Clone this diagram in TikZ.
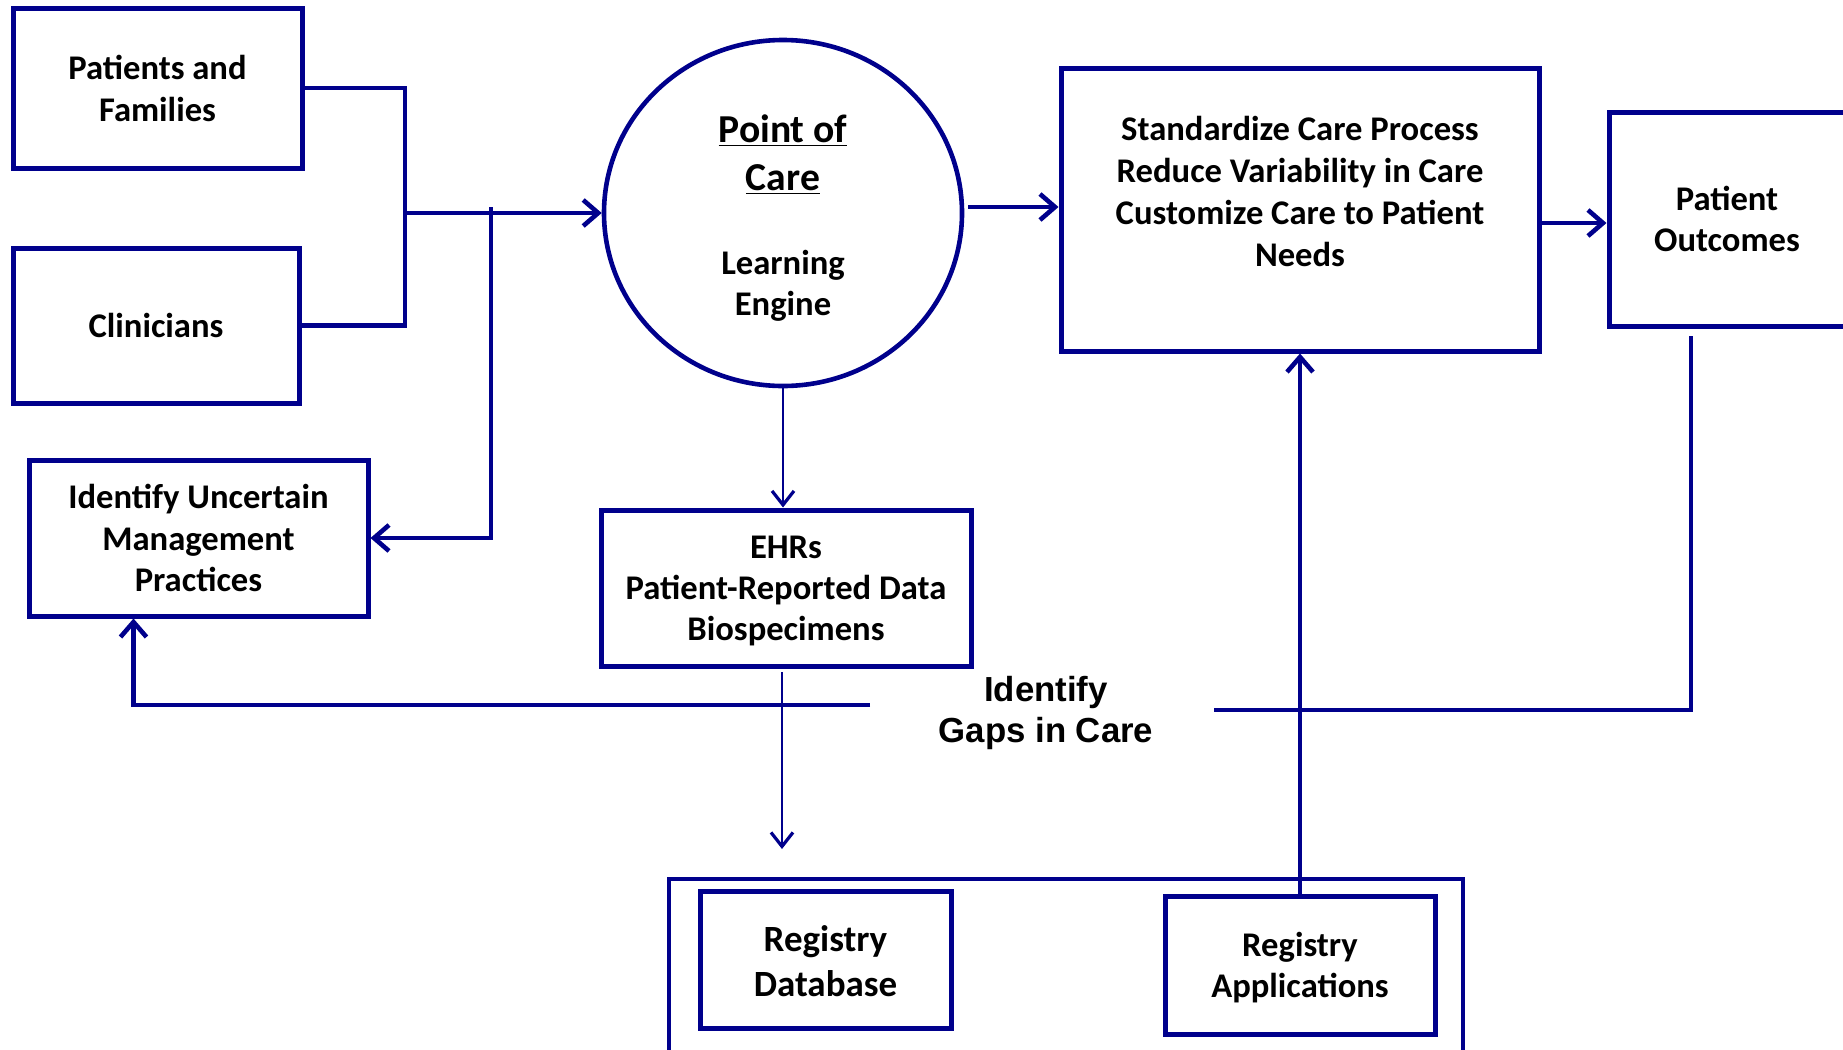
\documentclass[tikz,border=0pt]{standalone}
\usepackage{fontspec}
\setmainfont{Carlito}
\newfontfamily\arialf{Liberation Sans}
\usetikzlibrary{arrows.meta,shapes.geometric}
\definecolor{navy}{RGB}{0,0,140}
\begin{document}
\begin{tikzpicture}[x=0.5pt,y=-0.5pt,
  box/.style={draw=navy, line width=2.5pt, rectangle, inner sep=0pt, align=center,
    font=\bfseries\fontsize{17.3}{21}\selectfont},
  txt/.style={inner sep=0pt, align=center, font=\bfseries\fontsize{17.3}{21}\selectfont},
  conn/.style={draw=navy, line width=2.3pt},
  thinconn/.style={draw=navy, line width=1.3pt},
  tip/.style={-{Straight Barb[length=7.5pt,width=13pt,line width=2.3pt]}},
  thintip/.style={-{Straight Barb[length=7pt,width=11pt,line width=1.6pt]}}]
\useasboundingbox (0,0) rectangle (1843,1050);
\clip (0,0) rectangle (1843,1050);
\fill[white] (0,0) rectangle (1843,1050);

% nodes
\node[box, minimum width=144.5pt, minimum height=80pt] (pf) at (157.5,88) {Patients and\\Families};
\node[box, minimum width=143pt, minimum height=77.5pt] (cl) at (156,325.5) {Clinicians};
\node[box, minimum width=169.5pt, minimum height=78pt, font=\bfseries\fontsize{17.3}{20.75}\selectfont] (iu) at (198.5,538) {Identify Uncertain\\Management\\Practices};
\node[draw=navy, line width=2.3pt, ellipse, minimum width=179pt, minimum height=173pt, inner sep=0pt] (poc) at (783,213) {};
\node[txt, font=\bfseries\fontsize{19.8}{24}\selectfont] (poct) at (783,155) {\underline{Point of}\\\underline{Care}};
\node[txt, font=\bfseries\fontsize{17.3}{20.5}\selectfont] (le) at (783,285.5) {Learning\\Engine};
\node[box, minimum width=239pt, minimum height=141.5pt] (sc) at (1300,209.5) {};
\node[txt] (sct) at (1300,191) {Standardize Care Process\\Reduce Variability in Care\\Customize Care to Patient\\Needs};
\node[box, minimum width=118pt, minimum height=107pt, font=\bfseries\fontsize{17.3}{20.5}\selectfont] (po) at (1727,219) {Patient\\Outcomes};
\node[box, minimum width=185pt, minimum height=78pt, font=\bfseries\fontsize{17.3}{20.5}\selectfont] (ehr) at (786,588) {\rule{0pt}{14pt}EHRs\\Patient-Reported Data\\Biospecimens};
\node[draw=navy, line width=1.7pt, minimum width=397pt, minimum height=96pt, inner sep=0pt] (reg) at (1066,975) {};
\node[box, minimum width=125.5pt, minimum height=68.5pt, font=\bfseries\fontsize{18.5}{22.5}\selectfont] (rdb) at (825.5,959.5) {\rule{0pt}{15pt}Registry\\Database};
\node[box, minimum width=135pt, minimum height=69pt, font=\bfseries\fontsize{17.3}{20.5}\selectfont] (rap) at (1300,965) {\rule{0pt}{15pt}Registry\\Applications};
\node[inner sep=0pt, align=center, font=\arialf\bfseries\fontsize{17.4}{20.5}\selectfont] (gap) at (1046,712.5) {Identify\\Gaps in Care};

% connectors
\coordinate (j1) at (405,213);
\coordinate (j2) at (491,207);
\coordinate (a1) at (968,207);
\coordinate (a2) at (1541,223);
\coordinate (e1) at (782,672);
\coordinate (e2) at (782,849);
\coordinate (g1) at (870,705);
\coordinate (p1) at (1691,336);
\coordinate (g2) at (1214,710);

\draw[conn] (pf.east) -| (j1) |- (cl.east);
\draw[conn, tip] (j1) -- (poc.west);
\draw[conn, tip] (j2) |- (iu.east);
\draw[conn, tip] (a1) -- (a1 -| sc.west);
\draw[conn, tip] (sc.east |- a2) -- (po.west |- a2);
\draw[thinconn, thintip] (poc.south) -- (poc.south |- ehr.north);
\draw[thinconn, thintip] (e1) -- (e2);
\draw[conn, tip] (g1) -| ([xshift=53.5pt]iu.south west);
\draw[conn] (p1) |- (g2);
\draw[conn, tip] (rap.north) -- (rap.north |- sc.south);
\end{tikzpicture}
\end{document}
